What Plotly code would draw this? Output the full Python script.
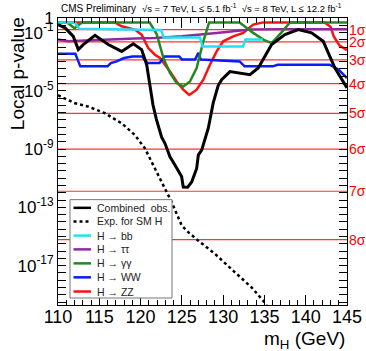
import numpy as np
import plotly.graph_objects as go

# Higgs mass points (GeV) and local p-values
comb_m = [110.0, 110.85, 111.85, 112.46, 113.06, 114.48, 116.09, 117.71, 119.12, 120.13,
          120.74, 121.1, 121.5, 121.9, 122.55, 122.95, 123.56, 124.16, 124.97, 125.17,
          125.7, 126.19, 126.79, 127.0, 127.4, 128.2, 128.8, 129.4, 129.82, 130.82,
          132.0, 133.24, 134.25, 135.87, 137.48, 139.09, 140.71, 142.12, 143.54, 145.0]
comb_p = [0.35, 0.21, 0.055, 6.8e-3, 0.015, 0.065, 0.015, 5.1e-3, 0.017, 6.8e-3,
          6.2e-4, 2.3e-5, 1.1e-6, 1.2e-7, 6.5e-9, 2.5e-9, 3.0e-10, 8.0e-11, 1.3e-11, 2.5e-12,
          2.4e-12, 5.5e-12, 4.7e-11, 4.0e-10, 8.5e-10, 2.7e-8, 1.5e-6, 2.3e-5, 5.8e-5, 2.1e-4,
          1.6e-4, 1.3e-4, 3.7e-4, 0.015, 0.072, 0.16, 0.095, 0.025, 3.7e-4, 1.6e-5]

exp_m = [110.0, 112.06, 113.67, 115.69, 117.71, 119.32, 120.53, 121.74, 122.95, 123.77,
         124.98, 125.77, 126.99, 129.0, 131.43, 133.45, 134.85, 136.0]
exp_p = [5.0e-6, 1.4e-6, 8.3e-7, 2.9e-7, 5.9e-8, 9.3e-9, 1.1e-9, 4.7e-11, 1.9e-12, 2.3e-13,
         5.8e-15, 2.0e-15, 5.2e-16, 6.5e-17, 3.5e-18, 3.2e-19, 3.9e-20, 5.0e-21]

bb_m = [110.0, 112.0, 112.6, 122.5, 122.8, 127.2, 127.5, 132.4, 132.7, 134.8]
bb_p = [0.5, 0.5, 0.18, 0.15, 0.045, 0.045, 0.011, 0.011, 0.033, 0.033]

tt_m = [110.0, 111.2, 113.3, 115.7, 119.3, 121.7, 125.0, 129.2, 133.3, 137.0, 145.0]
tt_p = [0.033, 0.025, 0.028, 0.033, 0.039, 0.043, 0.055, 0.095, 0.16, 0.17, 0.17]

gg_m = [110.0, 111.1, 112.0, 112.9, 121.1, 121.95, 122.75, 123.56, 124.37, 125.17,
        125.98, 126.79, 127.6, 128.3, 132.0, 133.64, 135.0, 135.87, 137.02, 138.09, 145.0]
gg_p = [0.5, 0.5, 0.2, 0.5, 0.5, 0.08, 1.9e-3, 1.7e-4, 3.4e-5, 2.0e-5,
        4.4e-5, 3.7e-4, 0.025, 0.5, 0.5, 0.095, 0.03, 0.019, 0.095, 0.5, 0.5]

ww_m = [110.0, 112.1, 112.7, 116.0, 116.4, 117.1, 118.0, 119.0, 120.2, 120.8,
        122.3, 122.9, 124.7, 125.0, 126.6, 127.0, 127.3, 132.0, 132.6, 136.0,
        136.6, 142.9, 144.0, 145.0]
ww_p = [3.5e-3, 3.5e-3, 4.8e-4, 4.8e-4, 8.1e-4, 1.05e-3, 1.8e-3, 2.3e-3, 2.3e-3, 8.1e-4,
        8.1e-4, 2.3e-3, 2.3e-3, 1.4e-3, 1.4e-3, 4.0e-3, 1.4e-3, 1.05e-3, 4.8e-4, 4.8e-4,
        6.2e-4, 6.2e-4, 2.8e-4, 7.6e-5]

zz_m = [110.0, 116.9, 117.7, 119.3, 120.13, 120.93, 121.74, 122.35, 123.56, 124.37,
        125.17, 125.9, 126.79, 127.6, 128.4, 129.21, 130.01, 131.22, 132.43, 133.64,
        134.85, 142.3, 143.0, 143.4, 144.1, 145.0]
zz_p = [0.5, 0.5, 0.27, 0.16, 0.072, 8.7e-3, 3.0e-3, 1.8e-3, 2.1e-4, 4.4e-5,
        1.2e-5, 5.2e-6, 1.2e-5, 5.8e-5, 6.2e-4, 5.1e-3, 0.025, 0.055, 0.095, 0.35,
        0.5, 0.5, 0.25, 0.055, 0.0126, 6.3e-3]

# one-sided p-values for 1..8 sigma
sigma_labels = ["1σ", "2σ", "3σ", "4σ", "5σ", "6σ", "7σ", "8σ"]
sigma_p = [1.587e-1, 2.275e-2, 1.350e-3, 3.167e-5, 2.867e-7, 9.866e-10, 1.280e-12, 6.221e-16]

y_labels = {0: "1", -1: "10<sup>-1</sup>", -5: "10<sup>-5</sup>", -9: "10<sup>-9</sup>",
            -13: "10<sup>-13</sup>", -17: "10<sup>-17</sup>"}

FONT = "Liberation Sans, Arial, sans-serif"
RED = "#ff0000"

fig = go.Figure()

for p in sigma_p:
    fig.add_trace(go.Scatter(x=[110, 145], y=[p, p], mode="lines",
                             line=dict(color="rgba(255,0,0,0.8)", width=1.2),
                             hoverinfo="skip", showlegend=False))

channels = [
    ("H → bb", bb_m, bb_p, "#22e0f2", 2.5),
    ("H → ττ", tt_m, tt_p, "#8e2a9e", 2.5),
    ("H → γγ", gg_m, gg_p, "#1f8a1f", 2.5),
    ("H → WW", ww_m, ww_p, "#0a1cff", 2.5),
    ("H → ZZ", zz_m, zz_p, "#ff1010", 2.5),
]
# draw order roughly as in the original
for name, m, p, col, w in [channels[4], channels[3], channels[1], channels[2], channels[0]]:
    fig.add_trace(go.Scatter(x=m, y=p, mode="lines", name=name,
                             line=dict(color=col, width=w), showlegend=False))

fig.add_trace(go.Scatter(x=exp_m, y=exp_p, mode="lines", name="Exp. for SM H",
                         line=dict(color="black", width=2.5, dash="3px,3px"), showlegend=False))
fig.add_trace(go.Scatter(x=comb_m, y=comb_p, mode="lines", name="Combined  obs.",
                         line=dict(color="black", width=3), showlegend=False))

# y ticks every half decade, labels only at a few
yt = [10 ** (-k / 2) for k in range(0, 40)]
ytt = [y_labels.get(-k // 2, "") if k % 2 == 0 else "" for k in range(0, 40)]

fig.update_xaxes(range=[110, 145], dtick=5, ticks="inside", ticklen=10, tickcolor="black",
                 showline=True, linecolor="black", linewidth=1, mirror="ticks",
                 showgrid=False, zeroline=False, automargin=False, ticklabelstandoff=-5,
                 tickfont=dict(family=FONT, size=18, color="black"),
                 minor=dict(dtick=1, ticks="inside", ticklen=5, tickcolor="black"))
fig.update_yaxes(type="log", range=[-19.7, 0], tickvals=yt, ticktext=ytt,
                 ticks="inside", ticklen=8, tickcolor="black",
                 showline=True, linecolor="black", linewidth=1, mirror="ticks",
                 showgrid=False, zeroline=False, automargin=False,
                 tickfont=dict(family=FONT, size=17, color="black"))

ann = []
for lab, p in zip(sigma_labels, sigma_p):
    ann.append(dict(x=1.0, xref="paper", y=np.log10(p), yref="y", text=lab,
                    showarrow=False, xanchor="left", xshift=1, borderpad=0,
                    font=dict(family=FONT, size=14, color=RED)))

ann.append(dict(x=-0.14, xref="paper", y=1.01, yref="paper", text="Local p-value",
                textangle=-90, showarrow=False, xanchor="center", yanchor="top",
                font=dict(family=FONT, size=19, color="black")))
ann.append(dict(x=1.0, xref="paper", y=-0.074, yref="paper", text="m<sub>H</sub> (GeV)",
                showarrow=False, xanchor="right", yanchor="top",
                font=dict(family=FONT, size=19, color="black")))
ann.append(dict(x=0.005, xref="paper", y=1.0, yref="paper", yshift=2,
                text="CMS Preliminary", showarrow=False, xanchor="left", yanchor="bottom",
                font=dict(family=FONT, size=10, color="black")))
ann.append(dict(x=0.99, xref="paper", y=1.0, yref="paper", yshift=2,
                text="√s = 7 TeV, L ≤ 5.1 fb<sup>-1</sup>  √s = 8 TeV, L ≤ 12.2 fb<sup>-1</sup>",
                showarrow=False, xanchor="right", yanchor="bottom",
                font=dict(family=FONT, size=9.5, color="black")))

# legend box drawn in paper coordinates
W, H = 289.0, 287.4
def px(xp):
    return (xp - 58) / W
def py(yp):
    return (305 - yp) / H

shapes = [dict(type="rect", xref="paper", yref="paper", x0=px(70), x1=px(172),
               y0=py(298), y1=py(199.5), line=dict(color="#777777", width=1),
               fillcolor="white", layer="above")]
legend_items = [("Combined  obs.", "black", "solid"), ("Exp. for SM H", "black", "3px,3px")] + \
               [(c[0], c[3], "solid") for c in channels]
ys = [207.7, 221.3, 235.5, 249.3, 263.3, 277.3, 291.5]
for (lab, col, dash), yy in zip(legend_items, ys):
    shapes.append(dict(type="line", xref="paper", yref="paper", x0=px(73.5), x1=px(91),
                       y0=py(yy), y1=py(yy), line=dict(color=col, width=2.5, dash=dash),
                       layer="above"))
    ann.append(dict(x=px(94.5), xref="paper", y=py(yy), yref="paper", text=lab,
                    showarrow=False, xanchor="left", yanchor="middle",
                    font=dict(family=FONT, size=10.5, color="#222222")))

fig.update_layout(width=366, height=351,
                  margin=dict(l=58, r=19, t=17.6, b=46),
                  plot_bgcolor="white", paper_bgcolor="white",
                  annotations=ann, shapes=shapes, showlegend=False)

# page body has a default 8px margin; drop it so the figure sits at the window corner
fig.write_html("out.html", config={"displayModeBar": False},
               post_script="document.body.style.margin='0';")
